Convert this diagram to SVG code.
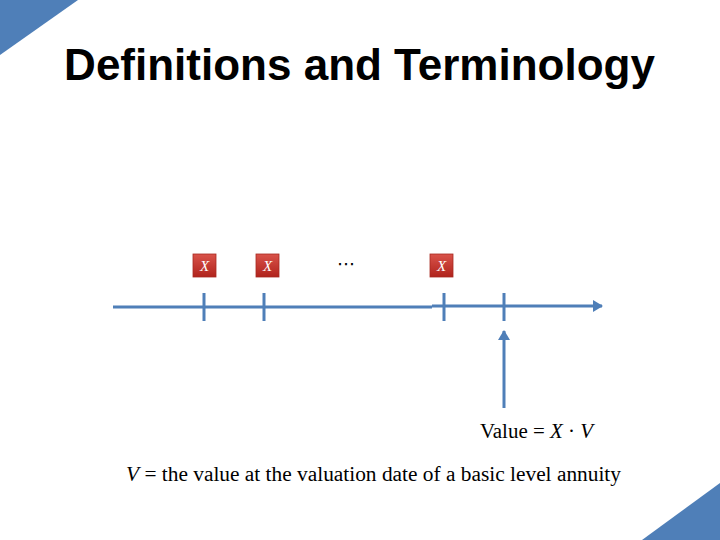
<svg xmlns="http://www.w3.org/2000/svg" width="720" height="540" viewBox="0 0 720 540">
<style>
.ln{stroke:#4F7FB8;stroke-width:3;fill:none}
.bx{fill:url(#rg);stroke:#A82A22;stroke-width:0.8}
.xt{font-family:"Liberation Serif","DejaVu Serif",serif;font-style:italic;font-size:15px;fill:#fff;text-anchor:middle}
.mt{font-family:"Liberation Serif","DejaVu Serif",serif;font-size:20px;fill:#000}
</style>
<defs>
<linearGradient id="rg" x1="0" y1="0" x2="0" y2="1">
<stop offset="0" stop-color="#D9534A"/>
<stop offset="1" stop-color="#B0231C"/>
</linearGradient>
<marker id="ah" markerWidth="10" markerHeight="12" refX="9" refY="6" orient="auto" markerUnits="userSpaceOnUse">
<path d="M0,0 L10,6 L0,12 Z" fill="#4F7FB8"/>
</marker>
</defs>
<rect width="720" height="540" fill="#fff"/>
<polygon points="0,0 78,0 0,55" fill="#4F7FB8"/>
<polygon points="720,483 720,540 642,540" fill="#4F7FB8"/>
<text x="359.5" y="80" font-family="Liberation Sans,Arial,sans-serif" font-weight="bold" font-size="44" text-anchor="middle" fill="#000">Definitions and Terminology</text>
<g id="connectors">
<line class="ln" x1="113" y1="307" x2="432" y2="307"/>
<line class="ln" x1="432" y1="306" x2="602" y2="306" marker-end="url(#ah)"/>
<line class="ln" x1="204" y1="293" x2="204" y2="321"/>
<line class="ln" x1="264" y1="293" x2="264" y2="321"/>
<line class="ln" x1="444" y1="293" x2="444" y2="321"/>
<line class="ln" x1="504" y1="293" x2="504" y2="321"/>
<line class="ln" x1="504" y1="408" x2="504" y2="331" marker-end="url(#ah)"/>
</g>
<g id="x1"><rect class="bx" x="193" y="254" width="23" height="23"/><text class="xt" x="204.5" y="270.5">X</text></g>
<g id="x2"><rect class="bx" x="256" y="254" width="23" height="23"/><text class="xt" x="267.5" y="270.5">X</text></g>
<g id="x3"><rect class="bx" x="430" y="254" width="23" height="23"/><text class="xt" x="441.5" y="270.5">X</text></g>
<g id="dots"><text x="346" y="270" font-family="DejaVu Sans,sans-serif" font-size="18" text-anchor="middle" fill="#000">⋯</text></g>
<g id="value"><text class="mt" x="480" y="438" textLength="113" lengthAdjust="spacingAndGlyphs">Value = <tspan font-style="italic">X</tspan> · <tspan font-style="italic">V</tspan></text></g>
<g id="def"><text class="mt" x="126" y="481" textLength="495" lengthAdjust="spacingAndGlyphs"><tspan font-style="italic">V</tspan> = the value at the valuation date of a basic level annuity</text></g>
</svg>
